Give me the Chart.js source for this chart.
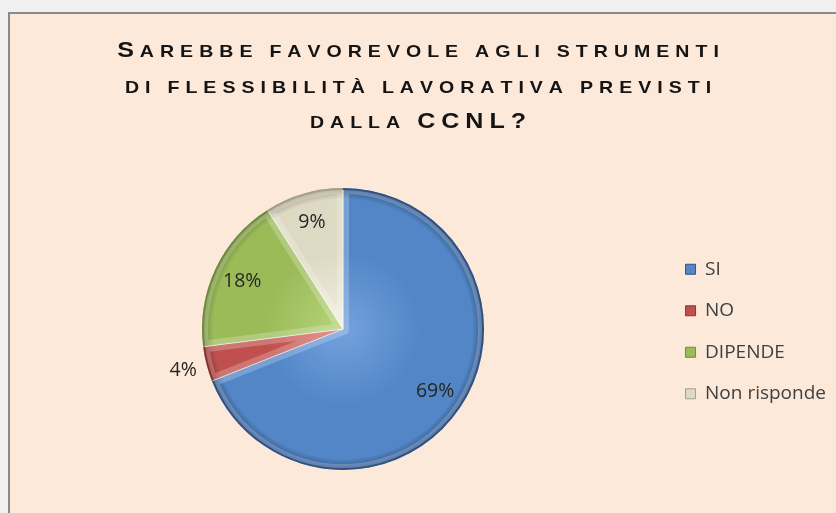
<!DOCTYPE html>
<html>
<head>
<meta charset="utf-8">
<script src="https://cdn.jsdelivr.net/npm/chart.js@4/dist/chart.umd.min.js"></script>
<style>
  html, body { margin: 0; padding: 0; background: #f0f0f0; overflow: hidden; }
  #frame {
    position: absolute; left: 8px; top: 12px; width: 900px; height: 600px;
    border-left: 2px solid #8a8a8a; border-top: 2px solid #8a8a8a;
    background: #fde9d9;
  }
  #chart { position: absolute; left: 0; top: 0; }
</style>
</head>
<body>
<div id="frame"><canvas id="chart" width="826" height="499"></canvas></div>
<script>
// ---------------------------------------------------------------
// data
// ---------------------------------------------------------------
const titleLines = [
  "Sarebbe favorevole agli strumenti",
  "di flessibilità lavorativa previsti",
  "dalla CCNL?"
];
const answers = ["SI", "NO", "DIPENDE", "Non risponde"];
const shares = [69, 4, 18, 9];

// slice colours: base, highlight, rim
const baseColors  = ["#5286c6", "#c0504d", "#9bbb59", "#ddd9c3"];
const lightColors = ["#74a2de", "#dc7370", "#b6d479", "#f3f0e2"];
const rimColors   = ["#2f5283", "#8c3331", "#6f8a3a", "#a39e84"];

const PIE_RADIUS = 141;

// radial shading so the slices don't look flat
function sliceFill(c) {
  const i = c.dataIndex;
  const area = c.chart.chartArea;
  if (!area) return baseColors[i];
  const cx = (area.left + area.right) / 2;
  const cy = (area.top + area.bottom) / 2;
  const g = c.chart.ctx.createRadialGradient(cx, cy, 0, cx, cy, PIE_RADIUS);
  g.addColorStop(0, lightColors[i]);
  g.addColorStop(0.55, baseColors[i]);
  g.addColorStop(0.92, baseColors[i]);
  g.addColorStop(1, rimColors[i]);
  return g;
}

// ---------------------------------------------------------------
// plugins
// ---------------------------------------------------------------

// title in small caps: real capitals big, the rest as smaller capitals,
// glyphs widened a bit to get the flat gothic look
const BIG_CAPS = "bold 21.8px 'Liberation Sans'";
const SMALL_CAPS = "bold 17px 'Liberation Sans'";
const CAPS_STRETCH = 1.15;
const CAPS_SPACING = 6;
const WORD_GAP = 17;

function drawSmallCaps(ctx, text, cx, y) {
  const glyphs = [];
  [...text].forEach(ch => {
    if (ch === " ") {
      if (glyphs.length) glyphs[glyphs.length - 1].gap = WORD_GAP;
      return;
    }
    const isLetter = ch.toLowerCase() !== ch.toUpperCase();
    const big = !isLetter || ch === ch.toUpperCase();
    glyphs.push({ ch: ch.toUpperCase(), font: big ? BIG_CAPS : SMALL_CAPS, gap: CAPS_SPACING });
  });
  let total = 0;
  glyphs.forEach((g, i) => {
    ctx.font = g.font;
    g.w = ctx.measureText(g.ch).width * CAPS_STRETCH;
    total += g.w + (i < glyphs.length - 1 ? g.gap : 0);
  });
  let x = cx - total / 2;
  glyphs.forEach(g => {
    ctx.save();
    ctx.font = g.font;
    ctx.translate(x, y);
    ctx.scale(CAPS_STRETCH, 1);
    ctx.fillText(g.ch, 0, 0);
    ctx.restore();
    x += g.w + g.gap;
  });
}

const smallCapsTitle = {
  id: "smallCapsTitle",
  afterDraw(chart) {
    const ctx = chart.ctx;
    const baselines = [43, 78.5, 114];
    ctx.save();
    ctx.fillStyle = "#141414";
    ctx.textAlign = "left";
    ctx.textBaseline = "alphabetic";
    titleLines.forEach((line, i) => drawSmallCaps(ctx, line, 408, baselines[i]));
    ctx.restore();
  }
};

// soft light inner edge on every slice (a cheap bevel), then a dark outer rim
const sliceBevel = {
  id: "sliceBevel",
  afterDatasetsDraw(chart) {
    const ctx = chart.ctx;
    chart.getDatasetMeta(0).data.forEach((arc, i) => {
      const p = arc.getProps(["x", "y", "startAngle", "endAngle", "outerRadius"], true);
      ctx.save();
      ctx.beginPath();
      ctx.moveTo(p.x, p.y);
      ctx.arc(p.x, p.y, p.outerRadius, p.startAngle, p.endAngle);
      ctx.closePath();
      ctx.clip();
      ctx.lineJoin = "round";
      ctx.strokeStyle = "rgba(255,255,255,0.22)";
      ctx.lineWidth = 12;
      ctx.stroke();
      ctx.beginPath();
      ctx.arc(p.x, p.y, p.outerRadius, p.startAngle, p.endAngle);
      ctx.strokeStyle = rimColors[i];
      ctx.lineWidth = 4;
      ctx.stroke();
      ctx.restore();
    });
  }
};

const sliceLabels = {
  id: "sliceLabels",
  afterDatasetsDraw(chart) {
    const ctx = chart.ctx;
    const meta = chart.getDatasetMeta(0);
    ctx.save();
    ctx.font = "19.5px 'Open Sans'";
    ctx.fillStyle = "#262626";
    ctx.textAlign = "center";
    ctx.textBaseline = "middle";
    meta.data.forEach((arc, i) => {
      const p = arc.getProps(["x", "y", "startAngle", "endAngle", "outerRadius"], true);
      const mid = (p.startAngle + p.endAngle) / 2;
      // thin slices get their label outside the pie
      const r = shares[i] < 5 ? p.outerRadius + 24 : p.outerRadius * 0.79;
      ctx.fillText(shares[i] + "%", p.x + Math.cos(mid) * r, p.y + Math.sin(mid) * r);
    });
    ctx.restore();
  }
};

// ---------------------------------------------------------------
// chart
// ---------------------------------------------------------------
new Chart(document.getElementById("chart"), {
  type: "pie",
  data: {
    labels: answers,
    datasets: [{
      data: shares,
      backgroundColor: sliceFill,
      borderColor: "rgba(255,255,255,0.5)",
      borderWidth: 1,
      radius: PIE_RADIUS
    }]
  },
  options: {
    responsive: false,
    animation: false,
    devicePixelRatio: 1,
    layout: { padding: { left: 13, right: 0, top: 140, bottom: 9 } },
    plugins: {
      tooltip: { enabled: false },
      title: { display: false },
      legend: {
        position: "right",
        // empty title only nudges the items down a little
        title: { display: true, text: "", font: { size: 5, lineHeight: 1 }, padding: 0 },
        labels: {
          boxWidth: 10,
          boxHeight: 10,
          padding: 22.5,
          color: "#404040",
          font: { family: "'Open Sans'", size: 19 },
          generateLabels(chart) {
            const items = Chart.overrides.doughnut.plugins.legend.labels.generateLabels(chart);
            items.forEach((it, i) => {
              it.fillStyle = baseColors[i];
              it.strokeStyle = rimColors[i];
              it.lineWidth = 1;
            });
            return items;
          }
        }
      }
    }
  },
  plugins: [sliceBevel, sliceLabels, smallCapsTitle]
});
</script>
</body>
</html>
